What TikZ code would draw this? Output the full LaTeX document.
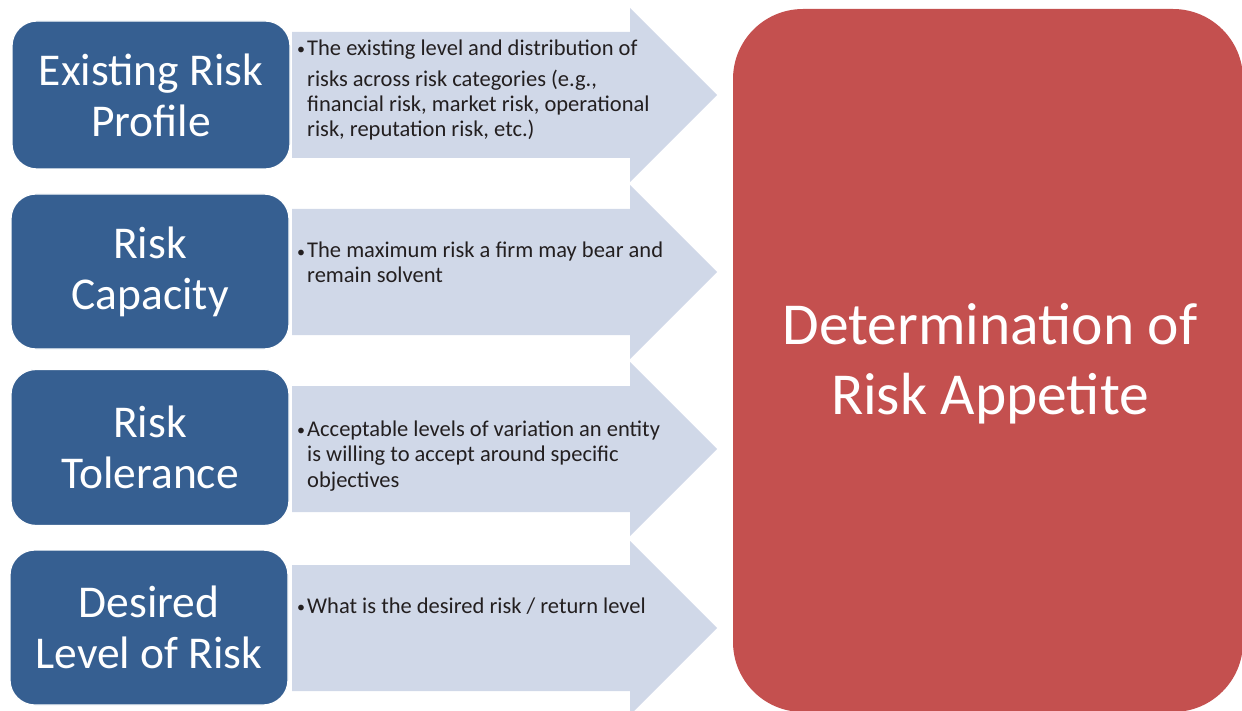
\documentclass[tikz,border=0pt]{standalone}
\usepackage{fontspec}
\setmainfont{Carlito}
\definecolor{boxblue}{HTML}{365F91}
\definecolor{arrowblue}{HTML}{D0D8E8}
\definecolor{goalred}{HTML}{C4504F}
\definecolor{txt}{HTML}{231F20}
\tikzset{
  bluebox/.style={fill=boxblue, draw=white, line width=1.2pt, rounded corners=25pt,
    minimum width=278pt, text=white, align=center, inner sep=0pt,
    font=\fontsize{45.5}{51}\selectfont},
  arrowshape/.style={fill=arrowblue, draw=none},
  goalbox/.style={fill=goalred, draw=none, rounded corners=70pt, inner sep=0pt,
    minimum width=510pt, minimum height=703pt},
  goaltext/.style={text=white, align=center, inner sep=0pt,
    font=\fontsize{59.5}{70}\selectfont},
  bullettext/.style={anchor=base west, align=left, inner sep=0pt, text=txt,
    font=\fontsize{22.5}{25.3}\selectfont}
}
\newcommand{\bul}{\llap{\raisebox{0.5pt}{\fontsize{16}{16}\selectfont•}\hspace{2pt}}}
\begin{document}
\begin{tikzpicture}[x=1pt,y=-1pt]
\useasboundingbox (0,0) rectangle (1242,711);
% arrows
\foreach \c in {95,272,449,628}{
  \path[arrowshape] (292,\c-63) -- (630,\c-63) -- (630,\c-87) -- (717,\c)
     -- (630,\c+87) -- (630,\c+63) -- (292,\c+63) -- cycle;
}
% goal
\node[goalbox] (goal) at (988,360.5) {};
\node[goaltext] (goaltxt) at (990,364) {Determination of\\Risk Appetite};
% blue boxes
\node[bluebox, minimum height=148pt] (b1) at (151,95) {Existing Risk\\Profile};
\node[bluebox, minimum height=155pt] (b2) at (150,271.5) {Risk\\Capacity};
\node[bluebox, minimum height=156pt] (b3) at (150,447.5) {Risk\\Tolerance};
\node[bluebox, minimum height=155pt] (b4) at (149,627.5) {Desired\\Level of Risk};
% texts (anchored at the baseline of their last line)
\node[bullettext] (t1) at (307,137) {\bul The existing level and distribution of\\[6pt]
  risks across risk categories (e.g.,\\ financial risk, market risk, operational\\ risk, reputation risk, etc.)};
\node[bullettext] (t2) at (307,283) {\bul The maximum risk a firm may bear and\\ remain solvent};
\node[bullettext] (t3) at (307,487) {\bul Acceptable levels of variation an entity\\ is willing to accept around specific\\ objectives};
\node[bullettext] (t4) at (307,613) {\bul What is the desired risk / return level};
\end{tikzpicture}
\end{document}
